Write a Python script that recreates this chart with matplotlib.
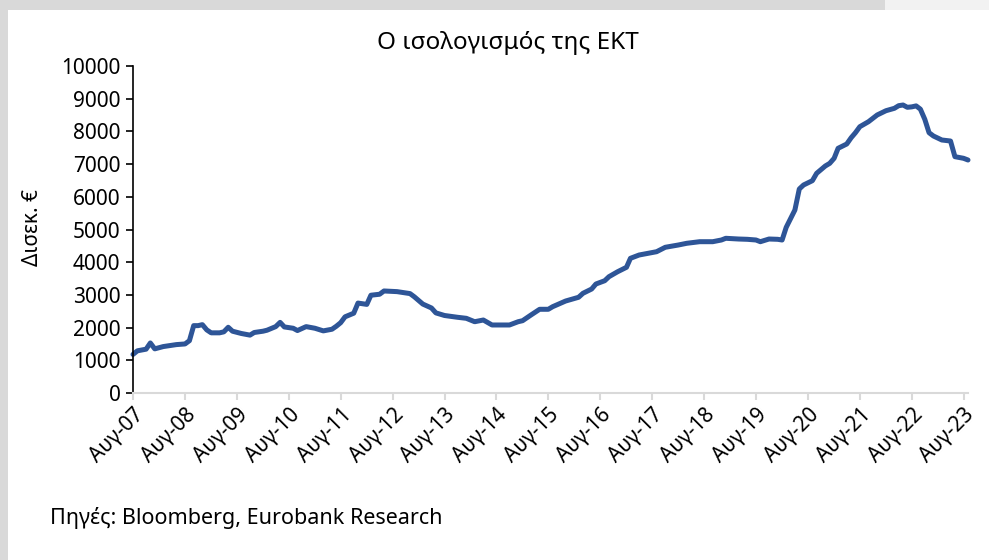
import matplotlib
matplotlib.use("Agg")
import matplotlib.pyplot as plt
from matplotlib.patches import Rectangle
import pandas as pd

#-------------------------
# Datos (lectura del gráfico)
#-------------------------
months = [
    "2007-08", "2007-09", "2007-11", "2007-12", "2008-01", "2008-03", "2008-06",
    "2008-08", "2008-09", "2008-10", "2008-11", "2008-12", "2009-01", "2009-02",
    "2009-04", "2009-05", "2009-06", "2009-07", "2009-09", "2009-11", "2009-12",
    "2010-02", "2010-03", "2010-05", "2010-06", "2010-07", "2010-09", "2010-10",
    "2010-12", "2011-02", "2011-04", "2011-06", "2011-07", "2011-08", "2011-09",
    "2011-11", "2011-12", "2012-02", "2012-03", "2012-05", "2012-06", "2012-09",
    "2012-12", "2013-01", "2013-03", "2013-05", "2013-06", "2013-08", "2013-11",
    "2014-01", "2014-03", "2014-05", "2014-07", "2014-11", "2015-01", "2015-02",
    "2015-04", "2015-06", "2015-08", "2015-09", "2015-12", "2016-03", "2016-04",
    "2016-06", "2016-07", "2016-09", "2016-10", "2016-12", "2017-02", "2017-03",
    "2017-05", "2017-09", "2017-11", "2018-02", "2018-04", "2018-07", "2018-10",
    "2018-12", "2019-01", "2019-04", "2019-06", "2019-08", "2019-09", "2019-11",
    "2020-01", "2020-02", "2020-03", "2020-05", "2020-06", "2020-07", "2020-09",
    "2020-10", "2020-12", "2021-01", "2021-02", "2021-03", "2021-05", "2021-06",
    "2021-07", "2021-08", "2021-10", "2021-12", "2022-02", "2022-04", "2022-05",
    "2022-06", "2022-07", "2022-08", "2022-09", "2022-10", "2022-11", "2022-12",
    "2023-01", "2023-03", "2023-05", "2023-06", "2023-08", "2023-09",
]
balance = [
    1180, 1290, 1340, 1530, 1350, 1420, 1480,
    1500, 1600, 2060, 2060, 2090, 1930, 1840,
    1840, 1870, 2010, 1890, 1820, 1770, 1850,
    1890, 1920, 2030, 2160, 2020, 1980, 1910,
    2030, 1980, 1900, 1950, 2040, 2150, 2330,
    2440, 2750, 2710, 2990, 3020, 3120, 3100,
    3040, 2940, 2720, 2600, 2450, 2370, 2315,
    2284, 2180, 2232, 2080, 2080, 2180, 2211,
    2385, 2560, 2560, 2640, 2813, 2927, 3049,
    3180, 3333, 3434, 3557, 3709, 3844, 4119,
    4220, 4321, 4456, 4526, 4578, 4627, 4627,
    4679, 4731, 4709, 4700, 4679, 4627, 4709,
    4700, 4679, 5067, 5596, 6239, 6361, 6493,
    6718, 6942, 7023, 7177, 7483, 7615, 7807,
    7960, 8144, 8297, 8502, 8633, 8706, 8786,
    8807, 8737, 8750, 8780, 8680, 8370, 7960,
    7859, 7737, 7706, 7227, 7177, 7125,
]
tick_years = list(range(2007, 2024))
tick_labels = [f"Αυγ-{y % 100:02d}" for y in tick_years]
y_ticks = list(range(0, 10001, 1000))

TITLE = "Ο ισολογισμός της ΕΚΤ"
YLABEL = "Δισεκ. €"
SOURCE = "Πηγές: Bloomberg, Eurobank Research"

dates = pd.to_datetime(months, format="%Y-%m")
tick_dates = pd.to_datetime([f"{y}-08-01" for y in tick_years])

plt.rcParams["font.family"] = ["Noto Sans", "DejaVu Sans"]

#-------------------------
# Figura
#-------------------------
fig = plt.figure(figsize=(9.89, 5.6), dpi=100)
fig.patch.set_facecolor("white")

# marco gris del recorte
fig.patches.append(Rectangle((0, 0), 8 / 989, 1, transform=fig.transFigure,
                             facecolor="#d9d9d9", edgecolor="none", zorder=0))
fig.patches.append(Rectangle((0, 1 - 10 / 560), 885 / 989, 10 / 560,
                             transform=fig.transFigure, facecolor="#d9d9d9",
                             edgecolor="none", zorder=0))
fig.patches.append(Rectangle((885 / 989, 1 - 10 / 560), 104 / 989, 10 / 560,
                             transform=fig.transFigure, facecolor="#f2f2f2",
                             edgecolor="none", zorder=0))

ax = fig.add_axes([133 / 989, 1 - 393 / 560, (968 - 133) / 989, (393 - 66) / 560])
ax.plot(dates, balance, color="#2E5597", lw=3.6, solid_capstyle="round",
        solid_joinstyle="round", clip_on=False)

ax.set_ylim(0, 10000)
ax.set_yticks(y_ticks)
ax.set_xlim(pd.Timestamp("2007-08-01"), pd.Timestamp("2023-09-01"))
ax.set_xticks(tick_dates)
ax.set_xticklabels(tick_labels, rotation=45, ha="right", rotation_mode="anchor")

for side in ("top", "right"):
    ax.spines[side].set_visible(False)
ax.spines["left"].set_color("black")
ax.spines["left"].set_linewidth(1.2)
ax.spines["bottom"].set_color("#d9d9d9")
ax.spines["bottom"].set_linewidth(1.5)

ax.tick_params(axis="y", direction="out", length=5, width=1.2, color="black",
               labelsize=15, pad=4)
ax.tick_params(axis="x", direction="out", length=5, width=1.5, color="#d9d9d9",
               labelsize=15, pad=3)

fig.text(508 / 989, 1 - 43 / 560, TITLE, fontsize=17.5, ha="center", va="center")
fig.text(33 / 989, 1 - 228 / 560, YLABEL, rotation=90, fontsize=15,
         ha="center", va="center")
fig.text(50 / 989, 1 - 518 / 560, SOURCE, fontsize=15.5, ha="left", va="center")

fig.savefig("out.png", dpi=100)
